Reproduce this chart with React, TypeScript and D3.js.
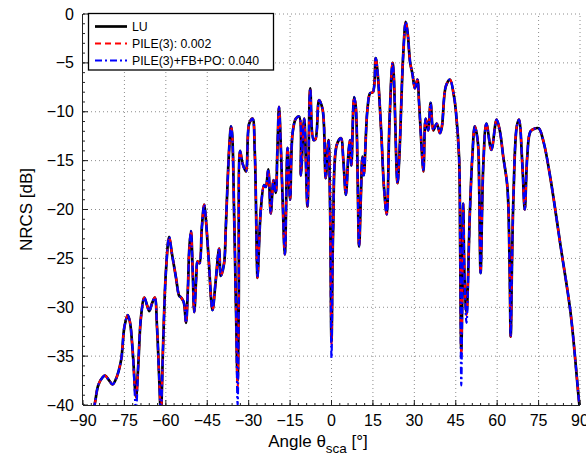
import React from "react";
import * as d3 from "d3";

// Scattering angle samples (degrees)
const angles: number[] = [
  -87, -85.5, -84.5, -83, -82, -80.5, -79.3, -78, -76.2, -75,
  -73.8, -73, -72, -70.8, -70, -69, -67.8, -66.8, -66, -65,
  -64, -63.2, -62.3, -61.8, -61, -60, -58.8, -57.8, -56.3, -55.2,
  -54.5, -53.5, -52.7, -52, -51.5, -50.9, -50.3, -49.7, -49, -48.5,
  -47.8, -47, -46.1, -45.5, -44.5, -43.1, -42, -40.7, -40.1, -38.9,
  -38.3, -37.6, -37, -36.4, -36, -35.3, -34.6, -34, -33.6, -33.1,
  -32.3, -31, -29.8, -28.6, -27.8, -27, -26.8, -26, -25.6, -24.4,
  -23.8, -22.9, -22, -21, -20.2, -19.6, -19, -18.3, -17.7, -16.9,
  -15.9, -15, -14.1, -12.9, -11.7, -11.1, -9.9, -8.7, -7.7, -6.5,
  -5.8, -4.5, -3.2, -2.1, -1.1, -0.5, 0, 0.6, 1.9, 3.4,
  4.3, 5.2, 6.2, 6.7, 7.2, 8.2, 8.8, 10, 10.6, 11.2,
  11.7, 13, 14, 15, 16, 16.7, 18, 19, 20, 21,
  22.1, 22.5, 23.9, 24.5, 26, 26.9, 27.6, 28.5, 29.3, 30.2,
  31.1, 31.7, 32.9, 33.3, 34.1, 35, 35.9, 36.9, 38.1, 39.3,
  40, 41.4, 42.9, 44.4, 45, 46.2, 46.6, 47, 47.4, 47.7,
  48.2, 48.9, 50.1, 51, 51.9, 53, 53.5, 54, 55, 56.1,
  57.9, 59.8, 61, 62.2, 63.7, 64.5, 64.9, 65.4, 65.9, 67.1,
  67.9, 69.1, 70, 70.9, 72.1, 73.9, 75.1, 76.9, 79.4, 83,
  86.6, 89.6, 90,
];

// NRCS (dB), reference LU solution
const luDb: number[] = [
  -42, -39.5, -38, -37.2, -37, -37.5, -37.9, -37.3, -35.4, -32,
  -30.8, -31.5, -34.5, -39.2, -36, -31, -29, -29.8, -30.4, -29.6,
  -29, -32, -38, -41, -34, -26.5, -22.8, -24.5, -27, -28.8,
  -29, -29.5, -31.6, -28, -24, -22.2, -26, -30.5, -27, -25.3,
  -25.5, -22, -19.5, -21, -25, -30.3, -27.5, -24, -26.8, -25.5,
  -22, -17, -13.5, -11.5, -12.2, -20, -30, -37.5, -30, -14,
  -15.2, -16.1, -11.2, -10.7, -14, -25.5, -27, -22, -20, -17.5,
  -17.7, -15.9, -20.4, -17, -18.3, -14, -9.5, -14, -19, -24.6,
  -13.7, -19, -12.2, -10.7, -10.5, -16.5, -10.7, -19.7, -7.6, -12.9,
  -12.8, -8.8, -9.8, -16.8, -12.9, -20, -33.5, -22, -13.4, -12.7,
  -15, -18.5, -14, -12.9, -15.5, -8.5, -9.5, -23.8, -19, -14.6,
  -16.5, -9.8, -8.1, -8, -4.5, -6, -12, -17.7, -20.5, -11,
  -5, -6, -17.3, -15, -4, -0.8, -2, -5, -6.1, -7.6,
  -6.7, -9, -14.9, -16.1, -10.7, -11.9, -9.1, -11.9, -11.2, -12.2,
  -11.5, -7.4, -6.7, -8.5, -9.8, -14.6, -24, -34.5, -28, -19.4,
  -27.2, -30.6, -20.4, -14.6, -11.5, -13.1, -18, -26.5, -15.3, -11.2,
  -13.9, -10.8, -12, -14.6, -17.7, -25.8, -33, -25, -18.7, -11.5,
  -10.8, -15.3, -20, -14.6, -12, -11.7, -11.7, -13.2, -17, -23.8,
  -30.6, -39.5, -40.5,
];

// NRCS (dB), PILE(3)
const pile3Db: number[] = [
  -42, -39.5, -38, -37.2, -37, -37.5, -37.9, -37.3, -35.4, -32,
  -30.8, -31.5, -34.5, -39.4, -36, -31, -29, -29.8, -30.4, -29.6,
  -29, -32, -38, -41, -34, -26.5, -22.8, -24.5, -27, -28.8,
  -29, -29.5, -31.6, -28, -24, -22.2, -26, -30.5, -27, -25.3,
  -25.5, -22, -19.5, -21, -25, -30.3, -27.5, -24, -26.8, -25.5,
  -22, -17, -13.5, -11.5, -12.2, -20, -30, -38.3, -30, -14,
  -15.2, -16.1, -11.2, -10.7, -14, -25.5, -27, -22, -20, -17.5,
  -17.7, -15.9, -20.4, -17, -18.3, -14, -9.5, -14, -19, -24.6,
  -13.7, -19, -12.2, -10.7, -10.5, -16.5, -10.7, -19.7, -7.6, -12.9,
  -12.8, -8.8, -9.8, -16.8, -12.9, -20, -33.8, -22, -13.4, -12.7,
  -15, -18.5, -14, -12.9, -15.5, -8.5, -9.5, -23.8, -19, -14.6,
  -16.5, -9.8, -8.1, -8, -4.5, -6, -12, -17.7, -20.5, -11,
  -5, -6, -17.3, -15, -4, -0.8, -2, -5, -6.1, -7.6,
  -6.7, -9, -14.9, -16.1, -10.7, -11.9, -9.1, -11.9, -11.2, -12.2,
  -11.5, -7.4, -6.7, -8.5, -9.8, -14.6, -24, -35, -28, -19.4,
  -27.2, -30.8, -20.4, -14.6, -11.5, -13.1, -18, -26.5, -15.3, -11.2,
  -13.9, -10.8, -12, -14.6, -17.7, -25.8, -33, -25, -18.7, -11.5,
  -10.8, -15.3, -20, -14.6, -12, -11.7, -11.7, -13.2, -17, -23.8,
  -30.6, -39.5, -40.5,
];

// NRCS (dB), PILE(3)+FB+PO
const pileFbDb: number[] = [
  -42, -39.5, -38, -37.2, -37, -37.5, -37.9, -37.3, -35.4, -32,
  -30.8, -31.5, -34.5, -40.5, -36, -31, -29, -29.8, -30.4, -29.6,
  -29, -32, -38, -41, -34, -26.5, -22.8, -24.5, -27, -28.8,
  -29, -29.5, -31.6, -28, -24, -22.2, -26, -30.5, -27, -25.3,
  -25.5, -22, -19.5, -21, -25, -30.3, -27.5, -24, -26.8, -25.5,
  -22, -17, -13.5, -11.5, -12.2, -20, -30, -40, -30, -14,
  -15.2, -16.1, -11.2, -10.7, -14, -25.5, -27, -22, -20, -17.5,
  -17.7, -15.9, -20.4, -17, -18.3, -14, -9.5, -14, -19, -24.6,
  -13.7, -19, -12.2, -10.7, -10.5, -16.5, -10.7, -19.7, -7.6, -12.9,
  -12.8, -8.8, -9.8, -16.8, -12.9, -20, -35.2, -22, -13.4, -12.7,
  -15, -18.5, -14, -12.9, -15.5, -8.5, -9.5, -23.8, -19, -14.6,
  -16.5, -9.8, -8.1, -8, -4.5, -6, -12, -17.7, -20.5, -11,
  -5, -6, -17.3, -15, -4, -0.8, -2, -5, -6.1, -7.6,
  -6.7, -9, -14.9, -16.1, -10.7, -11.9, -9.1, -11.9, -11.2, -12.2,
  -11.5, -7.4, -6.7, -8.5, -9.8, -14.6, -24, -38, -28, -19.4,
  -27.2, -31.6, -20.4, -14.6, -11.5, -13.1, -18, -26.5, -15.3, -11.2,
  -13.9, -10.8, -12, -14.6, -17.7, -25.8, -33, -25, -18.7, -11.5,
  -10.8, -15.3, -20, -14.6, -12, -11.7, -11.7, -13.2, -17, -23.8,
  -30.6, -39.5, -40.5,
];

const xTicks: number[] = [-90, -75, -60, -45, -30, -15, 0, 15, 30, 45, 60, 75, 90];
const yTicks: number[] = [0, -5, -10, -15, -20, -25, -30, -35, -40];

const seriesNames: string[] = ["LU", "PILE(3): 0.002", "PILE(3)+FB+PO: 0.040"];
const seriesColors: string[] = ["#000000", "#ff0000", "#0000ff"];

const W = 586;
const H = 466;
const M = { left: 83, right: 6, top: 14, bottom: 61 };
const FONT = "'Liberation Sans', Arial, Helvetica, sans-serif";

export default function App() {
  const x = d3.scaleLinear().domain([-90, 90]).range([M.left, W - M.right]);
  const y = d3.scaleLinear().domain([-40, 0]).range([H - M.bottom, M.top]);

  const line = d3
    .line<number>()
    .x((_, i) => x(angles[i]))
    .y((v) => y(v))
    .curve(d3.curveCatmullRom.alpha(0.5));

  const series = [luDb, pile3Db, pileFbDb];
  const styles = [
    { w: 2.7, dash: undefined as string | undefined },
    { w: 2.2, dash: "6,4" },
    { w: 2.2, dash: "7,3,2,3" },
  ];

  const x0 = x(-90), x1 = x(90), yb = y(-40), yt = y(0);
  const minorX = d3.range(-90, 90.01, 3);
  const minorY = d3.range(-40, 0.01, 1);

  const fmt = (t: number) => (t < 0 ? "\u2212" + Math.abs(t) : String(t));

  return (
    <svg
      width={W}
      height={H}
      style={{ position: "absolute", left: 0, top: 0, background: "#fff" }}
      fontFamily={FONT}
    >
      <defs>
        <clipPath id="plotClip">
          <rect x={x0} y={yt - 2} width={x1 - x0 + 4} height={yb - yt + 2} />
        </clipPath>
      </defs>
      <rect x={0} y={0} width={W} height={H} fill="#fff" />

      {/* grid */}
      <g stroke="#8c8c8c" strokeWidth={1} strokeDasharray="1,3">
        {xTicks.slice(1).map((t) => (
          <line key={"gx" + t} x1={x(t)} x2={x(t)} y1={yb} y2={yt} />
        ))}
        {yTicks.slice(0, -1).map((t) => (
          <line key={"gy" + t} x1={x0} x2={x1} y1={y(t)} y2={y(t)} />
        ))}
      </g>

      {/* curves */}
      <g clipPath="url(#plotClip)" fill="none" strokeLinejoin="round">
        {series.map((s, i) => (
          <path
            key={i}
            d={line(s) || ""}
            stroke={seriesColors[i]}
            strokeWidth={styles[i].w}
            strokeDasharray={styles[i].dash}
          />
        ))}
      </g>

      {/* axes */}
      <g stroke="#222" strokeWidth={1}>
        <line x1={x0} x2={x1} y1={yb + 0.5} y2={yb + 0.5} />
        <line x1={x0 - 0.5} x2={x0 - 0.5} y1={yb} y2={yt} />
        {minorX.map((t) => (
          <line key={"mx" + t} x1={x(t)} x2={x(t)} y1={yb} y2={yb - 2} />
        ))}
        {minorY.map((t) => (
          <line key={"my" + t} x1={x0} x2={x0 + 2} y1={y(t)} y2={y(t)} />
        ))}
        {xTicks.map((t) => (
          <line key={"tx" + t} x1={x(t)} x2={x(t)} y1={yb} y2={yb - 5} />
        ))}
        {yTicks.map((t) => (
          <line key={"ty" + t} x1={x0} x2={x0 + 5} y1={y(t)} y2={y(t)} />
        ))}
      </g>

      {/* tick labels */}
      <g fontSize={16} fill="#000">
        {xTicks.map((t) => (
          <text key={"lx" + t} x={x(t)} y={yb + 21} textAnchor="middle">
            {fmt(t)}
          </text>
        ))}
        {yTicks.map((t) => (
          <text key={"ly" + t} x={x0 - 9} y={y(t) + 5.5} textAnchor="end">
            {fmt(t)}
          </text>
        ))}
      </g>

      {/* axis titles */}
      <text x={318} y={447} fontSize={17} textAnchor="middle">
        Angle {"\u03B8"}
        <tspan fontSize={13.5} dy={6}>sca</tspan>
        <tspan dy={-6}> [°]</tspan>
      </text>
      <text
        transform={`translate(32,${(yt + yb) / 2}) rotate(-90)`}
        fontSize={17}
        textAnchor="middle"
      >
        NRCS [dB]
      </text>

      {/* legend */}
      <g>
        <rect x={88.5} y={13.5} width={185} height={56.5} fill="#fff" stroke="#000" strokeWidth={1.3} />
        {seriesNames.map((n, i) => {
          const ly = 26.5 + i * 17;
          return (
            <g key={n}>
              <line
                x1={95}
                x2={127}
                y1={ly}
                y2={ly}
                stroke={seriesColors[i]}
                strokeWidth={styles[i].w}
                strokeDasharray={styles[i].dash}
              />
              <text x={132} y={ly + 4.5} fontSize={12.3}>
                {n}
              </text>
            </g>
          );
        })}
      </g>
    </svg>
  );
}
